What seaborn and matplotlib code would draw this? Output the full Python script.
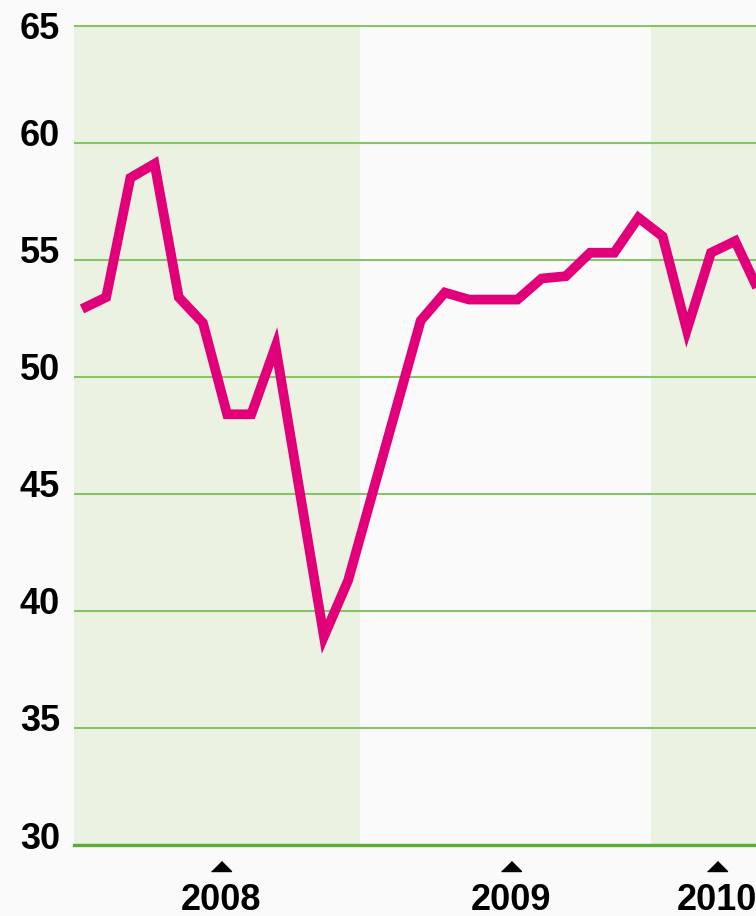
import numpy as np
import pandas as pd
import matplotlib
matplotlib.use("Agg")
import matplotlib.pyplot as plt
import matplotlib.transforms as mtransforms
import seaborn as sns

# monthly index values, Jan 2008 - May 2010
months = ["2008-01", "2008-02", "2008-03", "2008-04", "2008-05", "2008-06",
          "2008-07", "2008-08", "2008-09", "2008-10", "2008-11", "2008-12",
          "2009-01", "2009-02", "2009-03", "2009-04", "2009-05", "2009-06",
          "2009-07", "2009-08", "2009-09", "2009-10", "2009-11", "2009-12",
          "2010-01", "2010-02", "2010-03", "2010-04", "2010-05"]
values = [52.9, 53.4, 58.5, 59.1, 53.4, 52.3,
          48.4, 48.4, 51.3, 45.1, 38.9, 41.3,
          45.0, 48.7, 52.4, 53.6, 53.3, 53.3,
          53.3, 54.2, 54.3, 55.3, 55.3, 56.8,
          56.0, 52.0, 55.3, 55.8, 53.6]
years = ["2008", "2009", "2010"]
y_ticks = [30, 35, 40, 45, 50, 55, 60, 65]

df = pd.DataFrame({"month": months, "value": values})
df["pos"] = np.arange(len(df))
df["year"] = df["month"].str[:4]

sns.set_theme(style="white")
plt.rcParams["font.family"] = ["Liberation Sans", "DejaVu Sans"]
plt.rcParams["font.weight"] = "bold"

bg = "#fafafa"
band = "#ebf2e2"
grid_green = "#86c466"
axis_green = "#5aae32"
magenta = "#e2007a"

fig = plt.figure(figsize=(7.56, 9.16), dpi=100, facecolor=bg)
ax = fig.add_axes([74 / 756, 1 - 845 / 916, 1 - 74 / 756, 820 / 916])
ax.set_facecolor(bg)

# alternating year bands
tick_pos = []
for k, yr in enumerate(years):
    p = df.loc[df["year"] == yr, "pos"]
    if k % 2 == 0:
        ax.axvspan(p.min() - 0.5, p.max() + 0.5, color=band, lw=0, zorder=0)
    tick_pos.append(p.mean() + 0.25)

sns.lineplot(data=df, x="pos", y="value", ax=ax, color=magenta, lw=7,
             solid_joinstyle="miter", solid_capstyle="butt", zorder=3)

ax.set_xlim(-0.33, 27.86)
ax.set_ylim(30, 65.03)
ax.set_yticks(y_ticks)
ax.grid(axis="y", color=grid_green, lw=1.5)
ax.grid(axis="x", visible=False)
ax.set_axisbelow(True)

for s in ["top", "left", "right"]:
    ax.spines[s].set_visible(False)
ax.spines["bottom"].set_color(axis_green)
ax.spines["bottom"].set_linewidth(2.4)

ax.set_xlabel("")
ax.set_ylabel("")
ax.set_xticks(tick_pos, years)
ax.tick_params(axis="x", length=0, pad=27, labelsize=26, colors="black")
ax.tick_params(axis="y", length=0, pad=10, labelsize=26, colors="black")
for lab in ax.get_xticklabels() + ax.get_yticklabels():
    lab.set_fontweight("bold")

# shift y labels a little above their gridlines (top one stays centred)
for lab, v in zip(ax.get_yticklabels(), y_ticks):
    if v < 65:
        off = mtransforms.ScaledTranslation(0, 10 / 100, fig.dpi_scale_trans)
        lab.set_transform(lab.get_transform() + off)

# small triangle tick markers under the axis
tri = [(-1, -0.5), (1, -0.5), (0, 0.5)]
ax.plot(tick_pos, [-0.0256] * len(tick_pos), transform=ax.get_xaxis_transform(),
        marker=tri, ms=14.4, ls="none", color="black", clip_on=False)

fig.savefig("out.png", dpi=100, facecolor=bg)
